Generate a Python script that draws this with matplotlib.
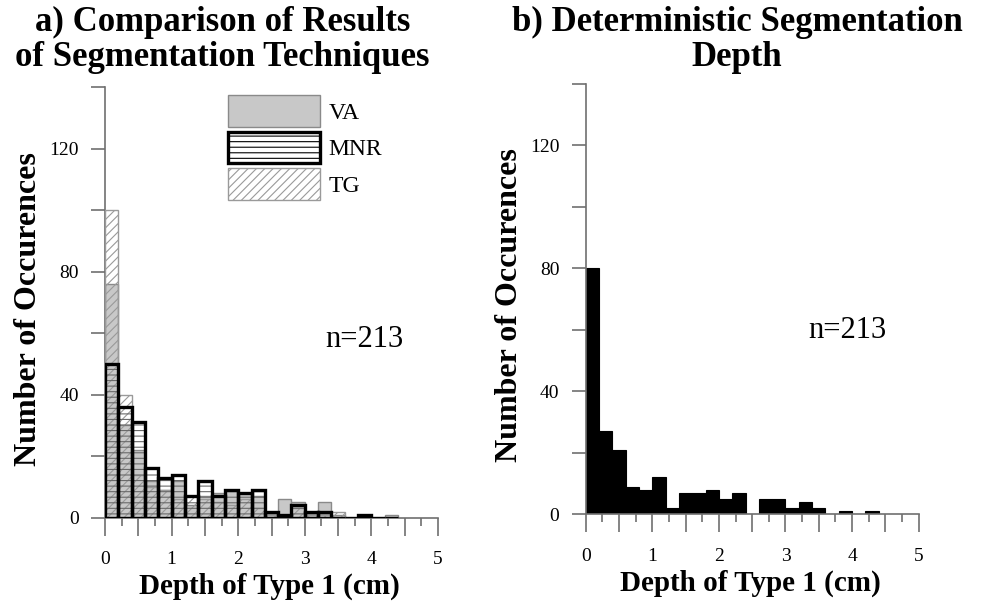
import numpy as np
import matplotlib
matplotlib.use("Agg")
import matplotlib.pyplot as plt
from matplotlib.patches import Patch
from matplotlib.ticker import MultipleLocator, FuncFormatter

plt.rcParams["font.family"] = ["Liberation Serif", "DejaVu Serif"]
plt.rcParams["hatch.linewidth"] = 0.8

BIN_WIDTH = 0.2

# counts per 0.2 cm bin (bin 0 = 0.0-0.2 cm)
va_counts = [76, 30, 22, 12, 9, 12, 4, 7, 8, 9, 8, 7, 2, 6, 5, 2, 5, 1, 0, 0, 0, 1]
mnr_counts = [50, 36, 31, 16, 13, 14, 7, 12, 7, 9, 8, 9, 2, 1, 4, 2, 2, 0, 0, 1, 0, 0]
tg_counts = [100, 40, 14, 10, 9, 6, 7, 6, 5, 4, 6, 3, 1, 1, 3, 1, 1, 2, 0, 0, 0, 0]
det_counts = [80, 27, 21, 9, 8, 12, 2, 7, 7, 8, 5, 7, 0, 5, 5, 2, 4, 2, 0, 1, 0, 1]

n_label = "n=213"
title_a = "a) Comparison of Results\nof Segmentation Techniques"
title_b = "b) Deterministic Segmentation\nDepth"
xlab = "Depth of Type 1 (cm)"
ylab = "Number of Occurences"

SPINE = "#707070"


def edges(counts):
    return np.arange(len(counts)) * BIN_WIDTH


def style_axes(ax):
    ax.set_xlim(0, 5)
    ax.set_ylim(0, 140)
    for s in ["top", "right"]:
        ax.spines[s].set_visible(False)
    for s in ["left", "bottom"]:
        ax.spines[s].set_color(SPINE)
        ax.spines[s].set_linewidth(1.2)
    ax.yaxis.set_major_locator(MultipleLocator(40))
    ax.yaxis.set_minor_locator(MultipleLocator(20))
    ax.xaxis.set_major_locator(MultipleLocator(0.5))
    ax.xaxis.set_minor_locator(MultipleLocator(0.25))
    ax.xaxis.set_major_formatter(
        FuncFormatter(lambda v, p: f"{int(round(v))}" if abs(v - round(v)) < 1e-6 else ""))
    ax.tick_params(axis="y", which="both", length=10, width=1.2, color=SPINE,
                   labelsize=14, pad=9)
    ax.tick_params(axis="x", which="major", length=13, width=1.2, color=SPINE,
                   labelsize=14, pad=11)
    ax.tick_params(axis="x", which="minor", length=6, width=1.2, color=SPINE)
    ax.set_xlabel(xlab, fontsize=21, fontweight="bold")
    ax.set_ylabel(ylab, fontsize=23, fontweight="bold", va="center")
    ax.xaxis.set_label_coords(0.495, -0.128)
    ax.yaxis.set_label_coords(-0.23, 0.485)


fig = plt.figure(figsize=(9.88, 6.05), dpi=100)
ax1 = fig.add_axes([0.1063, 0.1443, 0.337, 0.7116])
ax2 = fig.add_axes([0.5928, 0.1499, 0.337, 0.7116])

# panel a: three overlaid histograms
ax1.bar(edges(va_counts), va_counts, width=BIN_WIDTH, align="edge",
        color="#c8c8c8", edgecolor="#8a8a8a", linewidth=1.0, zorder=2)
ax1.bar(edges(tg_counts), tg_counts, width=BIN_WIDTH, align="edge",
        facecolor="none", edgecolor="#9a9a9a", hatch="////", linewidth=1.0, zorder=3)
ax1.bar(edges(mnr_counts), mnr_counts, width=BIN_WIDTH, align="edge",
        facecolor="none", edgecolor="#6a6a6a", hatch="---", linewidth=0, zorder=4)
ax1.bar(edges(mnr_counts), mnr_counts, width=BIN_WIDTH, align="edge",
        facecolor="none", edgecolor="black", linewidth=2.4, zorder=5)
style_axes(ax1)

handles = [
    Patch(facecolor="#c8c8c8", edgecolor="#8a8a8a", linewidth=1.0, label="VA"),
    Patch(facecolor="white", edgecolor="black", hatch="---", linewidth=2.4, label="MNR"),
    Patch(facecolor="none", edgecolor="#9a9a9a", hatch="////", linewidth=1.0, label="TG"),
]
ax1.legend(handles=handles, loc="upper left", bbox_to_anchor=(0.37, 0.982),
           frameon=False, fontsize=17, handlelength=3.9, handleheight=1.7,
           labelspacing=0.2, handletextpad=0.35, borderpad=0, borderaxespad=0)
ax1.text(0.661, 0.413, n_label, transform=ax1.transAxes, fontsize=22, va="center")

# panel b: deterministic segmentation
ax2.bar(edges(det_counts), det_counts, width=BIN_WIDTH, align="edge",
        color="black", edgecolor="black", linewidth=0.8, zorder=2)
style_axes(ax2)
ax2.text(0.668, 0.426, n_label, transform=ax2.transAxes, fontsize=22, va="center")

fig.text(0.225, 0.934, title_a, ha="center", va="center", fontsize=25,
         fontweight="bold", linespacing=1.05)
fig.text(0.746, 0.934, title_b, ha="center", va="center", fontsize=25,
         fontweight="bold", linespacing=1.05)

fig.savefig("out.png", dpi=100)
